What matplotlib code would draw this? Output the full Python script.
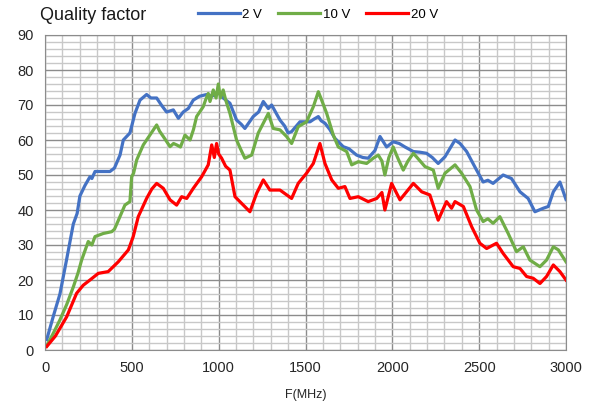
import numpy as np
import matplotlib
matplotlib.use('Agg')
import matplotlib.pyplot as plt
from matplotlib.ticker import MultipleLocator

plt.rcParams['font.family'] = ['Liberation Sans', 'DejaVu Sans']

# 2 V
f_2v = [10, 50, 86, 125, 163, 185, 201, 230, 259, 270, 288, 330, 374, 400, 432, 451, 489, 518,
        547, 585, 610, 643, 670, 700, 739, 768, 796, 825, 854, 890, 931, 960, 1000, 1026, 1065,
        1103, 1130, 1151, 1199, 1230, 1257, 1286, 1305, 1353, 1380, 1400, 1420, 1468, 1526, 1550,
        1574, 1590, 1612, 1640, 1669, 1717, 1750, 1794, 1830, 1861, 1900, 1929, 1967, 2005, 2040,
        2073, 2121, 2160, 2197, 2230, 2264, 2303, 2361, 2390, 2428, 2485, 2523, 2550, 2580, 2638,
        2686, 2735, 2782, 2821, 2869, 2898, 2927, 2965, 3000]
q_2v = [3, 10, 16, 26, 36, 39, 44, 47, 49.5, 49, 51, 51, 51, 52, 55.7, 60, 62, 67.6,
        71.4, 73, 72, 72, 70, 68, 68.6, 66.2, 68, 69, 71.4, 72.5, 73, 72.5, 73.5, 72, 70.5,
        65.7, 64.5, 63.3, 66.7, 68, 71, 69, 70, 65.7, 64, 62, 62.4, 65.2, 65.2, 66,
        66.7, 65.5, 64.8, 63, 60.5, 58.1, 57.5, 55.7, 55, 54.8, 57, 61, 58, 59.5, 59,
        58, 56.7, 56.5, 56.2, 55, 53.3, 55.2, 60, 59, 56.7, 51.4, 48, 48.5, 47.6, 50,
        49, 45.2, 43.3, 39.5, 40.5, 41, 45.2, 48, 43]

# 10 V
f_10v = [10, 50, 86, 125, 163, 190, 211, 249, 270, 288, 336, 384, 400, 422, 460, 489, 499, 510,
         528, 566, 604, 643, 660, 681, 720, 740, 758, 780, 806, 835, 855, 873, 911, 925, 940,
         950, 969, 985, 998, 1010, 1026, 1040, 1065, 1103, 1130, 1151, 1190, 1228, 1257, 1286,
         1314, 1353, 1391, 1420, 1458, 1506, 1545, 1574, 1593, 1622, 1660, 1689, 1737, 1766,
         1804, 1852, 1890, 1919, 1940, 1957, 1980, 2005, 2030, 2063, 2090, 2121, 2160, 2188,
         2236, 2264, 2303, 2361, 2399, 2447, 2485, 2523, 2550, 2580, 2619, 2667, 2715, 2754,
         2792, 2850, 2888, 2927, 2956, 3000]
q_10v = [1.2, 5, 8.6, 13, 18, 22, 25.7, 31, 30, 32.4, 33.3, 33.8, 34.5, 37, 41.4, 42.4, 49.5, 50.5,
         54.3, 58.6, 61.4, 64.3, 62.5, 61, 58.1, 59, 58.6, 58, 61.4, 60, 63, 66.7, 69.5, 71.5, 73.3,
         71, 74.3, 72, 76, 72, 74.3, 71.5, 67.6, 60, 57, 54.8, 55.7, 62, 64.8, 67.6,
         63.3, 62.9, 61, 59, 63.8, 65.2, 69.5, 73.8, 71.4, 67.6, 61.4, 58, 56.7, 52.9,
         53.8, 53.3, 54.8, 55.7, 54, 50, 55, 58, 55, 51.4, 54, 56.2, 54, 52.4,
         51.4, 46.2, 50.5, 52.9, 50.5, 46.7, 40, 36.7, 37.5, 36.2, 38.1, 33.3, 28.1, 29.5,
         25.7, 23.8, 25.7, 29.5, 28.6, 25.2]

# 20 V
f_20v = [10, 60, 125, 182, 220, 259, 307, 364, 422, 480, 508, 537, 585, 615, 643, 681, 720, 758,
         787, 816, 854, 902, 940, 960, 975, 988, 1000, 1017, 1040, 1065, 1094, 1142, 1180, 1219,
         1257, 1295, 1353, 1420, 1458, 1506, 1545, 1583, 1612, 1651, 1689, 1727, 1756, 1804,
         1861, 1910, 1940, 1957, 1996, 2044, 2121, 2169, 2216, 2264, 2312, 2341, 2361, 2409,
         2457, 2504, 2543, 2600, 2638, 2696, 2735, 2773, 2811, 2850, 2888, 2927, 2965, 3000]
q_20v = [1, 4, 9.5, 16.2, 18.5, 20, 21.9, 22.4, 25.2, 28.6, 32.4, 38.1, 43.3, 46, 47.6, 46.2, 42.9, 41.4,
         43.8, 43.3, 46.2, 49.5, 52.9, 58.6, 55, 59, 56, 54.8, 52.5, 51.4, 43.8, 41.4, 39.5, 44.8,
         48.6, 45.7, 45.7, 43.3, 47.6, 50.5, 53.3, 59, 53.3, 48.6, 46.2, 46.7, 43.3, 43.8,
         42.4, 43.3, 45, 40, 47.6, 42.9, 47.6, 45.2, 44.3, 37.1, 42.4, 40.5, 42.4, 41,
         35.2, 30.5, 29, 30.5, 27.6, 23.8, 23.3, 21, 20.5, 19, 21, 24.3, 22.4, 20]

fig = plt.figure(figsize=(5.94, 4.07), dpi=100)
ax = fig.add_axes([45/594, 1 - 350/407, 521/594, 315/407])

ax.plot(f_2v, q_2v, color='#4472C4', lw=2.3, label='2 V')
ax.plot(f_10v, q_10v, color='#70AD47', lw=2.3, label='10 V')
ax.plot(f_20v, q_20v, color='#FF0000', lw=2.3, label='20 V')

ax.set_xlim(0, 3000)
ax.set_ylim(0, 90)
ax.xaxis.set_major_locator(MultipleLocator(500))
ax.xaxis.set_minor_locator(MultipleLocator(100))
ax.yaxis.set_major_locator(MultipleLocator(10))
ax.yaxis.set_minor_locator(MultipleLocator(2))
ax.grid(which='major', color='#8c8c8c', lw=1.0)
ax.grid(which='minor', color='#c8c8c8', lw=1.0)
ax.set_axisbelow(True)
ax.tick_params(which='both', length=0, labelsize=10.5, colors='#262626', pad=8)
for s in ax.spines.values():
    s.set_color('#8c8c8c')

ax.set_xlabel('F(MHz)', fontsize=9, color='#262626', labelpad=10)
fig.text(40/594, 1 - 15/407, 'Quality factor', fontsize=13, va='center', ha='left', color='#1a1a1a')
fig.legend(loc='center', bbox_to_anchor=(318/594, 1 - 15/407), ncol=3, frameon=False,
           fontsize=9.5, handlelength=3.2, handletextpad=0.2, columnspacing=1.2)

fig.savefig('out.png', dpi=100)
